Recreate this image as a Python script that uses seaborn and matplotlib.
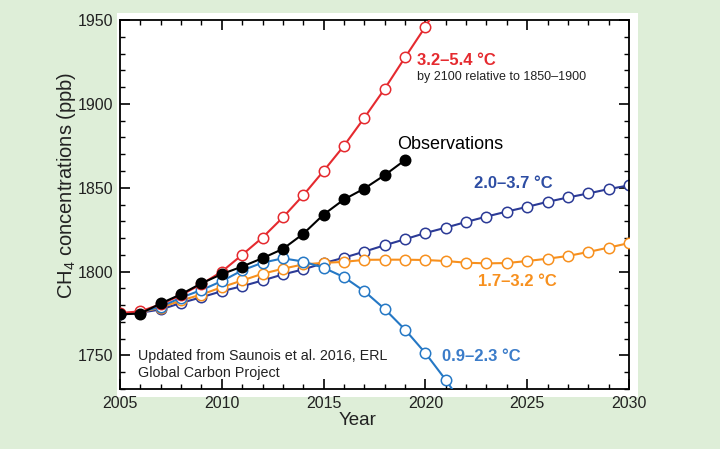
import numpy as np
import pandas as pd
import seaborn as sns
import matplotlib
matplotlib.use("Agg")
import matplotlib.pyplot as plt
from matplotlib.patches import Rectangle
from matplotlib.ticker import MultipleLocator

# ---------------- data ----------------
obs_years = list(range(2005, 2020))
obs_vals = [1774.5, 1775.0, 1781.0, 1786.5, 1793.0, 1798.5, 1803.0, 1808.0,
            1813.5, 1822.5, 1834.0, 1843.0, 1849.5, 1857.5, 1866.5]

red_years = list(range(2005, 2022))
red_vals = [1775.3, 1776.3, 1780.5, 1786.0, 1792.5, 1800.0, 1810.0, 1820.3,
            1832.3, 1845.5, 1860.0, 1875.0, 1891.7, 1909.0, 1927.7, 1946.0, 1966.0]

navy_years = list(range(2005, 2031))
navy_vals = [1774.5, 1775.5, 1777.4, 1781.3, 1784.7, 1788.3, 1791.3, 1794.7,
             1798.3, 1801.3, 1805.0, 1808.3, 1811.9, 1815.7, 1819.3, 1823.0,
             1826.2, 1829.6, 1832.8, 1835.8, 1838.6, 1841.6, 1844.2, 1846.6,
             1849.2, 1851.4]

orange_years = list(range(2005, 2031))
orange_vals = [1774.5, 1775.8, 1778.5, 1782.8, 1786.3, 1790.7, 1794.7, 1798.7,
               1801.7, 1804.3, 1805.2, 1805.8, 1807.0, 1807.1, 1807.1, 1806.9,
               1806.3, 1805.3, 1804.9, 1805.1, 1806.3, 1807.7, 1809.3, 1811.7,
               1814.3, 1817.0]

lblue_years = list(range(2005, 2023))
lblue_vals = [1774.8, 1776.0, 1779.0, 1784.5, 1789.0, 1794.3, 1800.7, 1805.3,
              1807.9, 1806.0, 1802.3, 1796.7, 1788.3, 1777.7, 1765.4, 1751.4,
              1735.4, 1718.0]

x_ticks = [2005, 2010, 2015, 2020, 2025, 2030]
y_ticks = [1750, 1800, 1850, 1900, 1950]

# ---------------- style ----------------
sns.set_theme(style="ticks")
plt.rcParams['font.family'] = ['Liberation Sans', 'DejaVu Sans']
plt.rcParams['mathtext.fontset'] = 'custom'
plt.rcParams['mathtext.rm'] = 'Liberation Sans'
plt.rcParams['mathtext.it'] = 'Liberation Sans'

BG = '#deeed8'
C_RED = '#e52a2f'
C_NAVY = '#2b3a96'
C_ORANGE = '#f7901e'
C_LBLUE = '#2578c5'
C_TXT = '#222222'

fig = plt.figure(figsize=(7.2, 4.49), dpi=100, facecolor=BG)
# white panel behind the axes
fig.patches.append(Rectangle((117/720, 1-397/449), (638-117)/720, (397-13)/449,
                             transform=fig.transFigure, facecolor='white',
                             edgecolor='none', zorder=-10))
ax = fig.add_axes([120/720, 1-389/449, (629-120)/720, (389-20)/449])
ax.set_facecolor('white')
ax.set_zorder(5)

series = [
    (navy_years, navy_vals, C_NAVY, 'white', 2),
    (orange_years, orange_vals, C_ORANGE, 'white', 3),
    (lblue_years, lblue_vals, C_LBLUE, 'white', 4),
    (red_years, red_vals, C_RED, 'white', 5),
    (obs_years, obs_vals, 'black', 'black', 6),
]
for yrs, vals, col, mfc, z in series:
    df = pd.DataFrame({'Year': yrs, 'CH4': vals})
    sns.lineplot(data=df, x='Year', y='CH4', ax=ax, color=col, lw=1.5,
                 marker='o', markersize=7.5, markerfacecolor=mfc,
                 markeredgecolor=col, markeredgewidth=1.1, zorder=z,
                 clip_on=True)

ax.set_xlim(2005, 2030)
ax.set_ylim(1730, 1950)
ax.set_xticks(x_ticks)
ax.set_yticks(y_ticks)
ax.xaxis.set_minor_locator(MultipleLocator(1))
ax.yaxis.set_minor_locator(MultipleLocator(10))
ax.tick_params(which='both', direction='in', top=True, right=True,
               colors='black', labelcolor=C_TXT, labelsize=11.5)
ax.tick_params(which='major', length=7, width=1.2, pad=5)
ax.tick_params(which='minor', length=3.5, width=1.0)
for s in ax.spines.values():
    s.set_linewidth(1.3)
    s.set_color('black')

ax.set_xlabel('Year', fontsize=13.5, color=C_TXT)
ax.set_ylabel('CH$_4$ concentrations (ppb)', fontsize=14.5, color=C_TXT)
ax.xaxis.set_label_coords(0.4676, -0.063)
ax.yaxis.set_label_coords(-0.083, 0.553)

# annotations
ax.text(2019.6, 1926, '3.2–5.4 °C', color=C_RED, fontsize=12, fontweight='bold',
        va='center', ha='left')
ax.text(2019.6, 1916, 'by 2100 relative to 1850–1900', color=C_TXT, fontsize=9,
        va='center', ha='left')
ax.text(2018.6, 1876, 'Observations', color='black', fontsize=13,
        va='center', ha='left')
ax.text(2022.4, 1852.5, '2.0–3.7 °C', color='#2d4da3', fontsize=12, fontweight='bold',
        va='center', ha='left')
ax.text(2022.6, 1794.3, '1.7–3.2 °C', color=C_ORANGE, fontsize=12, fontweight='bold',
        va='center', ha='left')
ax.text(2020.8, 1749.4, '0.9–2.3 °C', color='#3b7cc9', fontsize=12, fontweight='bold',
        va='center', ha='left')
ax.text(2005.9, 1749.5, 'Updated from Saunois et al. 2016, ERL', color=C_TXT,
        fontsize=10.3, va='center', ha='left')
ax.text(2005.9, 1739.5, 'Global Carbon Project', color=C_TXT,
        fontsize=10.3, va='center', ha='left')

fig.savefig('out.png', dpi=100, facecolor=BG)
